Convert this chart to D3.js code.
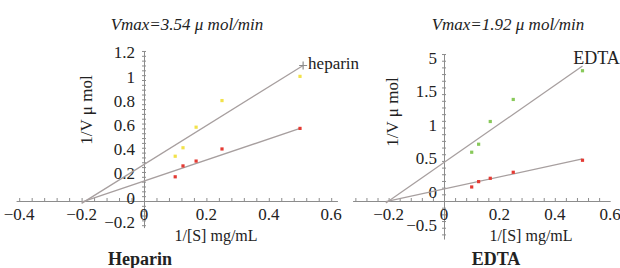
<!DOCTYPE html>
<html>
<head>
<meta charset="utf-8">
<script src="https://cdn.jsdelivr.net/npm/d3@7"></script>
<style>
  body { margin: 0; background: #fff; }
  text { fill: #222; }
</style>
</head>
<body>
<script>
const WIDTH = 620;
const HEIGHT = 268;

// 1/[S] values, same for both panels
const invS = [0.1, 0.125, 0.167, 0.25, 0.5];

// heparin panel (1/V)
const heparinYellow = [0.37, 0.44, 0.61, 0.83, 1.03];
const heparinRed = [0.20, 0.29, 0.33, 0.43, 0.60];
// edta panel (1/V)
const edtaGreen = [0.73, 0.85, 1.19, 1.52, 1.95];
const edtaRed = [0.21, 0.29, 0.34, 0.43, 0.61];

// fitted lines, end points [1/S, 1/V]
const heparinLineTop = [[-0.2, -0.02], [0.51, 1.12]];
const heparinLineLow = [[-0.2, -0.01], [0.5, 0.60]];
const edtaLineTop = [[-0.21, -0.03], [0.5, 2.02]];
const edtaLineLow = [[-0.21, -0.01], [0.5, 0.63]];

// tick labels
const heparinXTicks = [-0.4, -0.2, 0, 0.2, 0.4, 0.6];
const heparinYTicks = [-0.2, 0, 0.2, 0.4, 0.6, 0.8, 1, 1.2];
const heparinYLabels = ['−0.2', '0', '0.2', '0.4', '0.6', '0.8', '1', '1.2'];
const edtaXTicks = [-0.2, 0, 0.2, 0.4, 0.6];
const edtaYTicks = [-0.5, 0, 0.5, 1, 1.5, 2];
const edtaYLabels = ['−0.5', '0', '0.5', '1', '1.5', '5'];

const fmt = v => v < 0 ? '−' + Math.abs(v) : String(v);

const svg = d3.select('body')
    .append('svg')
    .attr('width', WIDTH)
    .attr('height', HEIGHT)
    .attr('font-family', '"Liberation Serif", "Times New Roman", serif');

function panel(p) {
    const x = d3.scaleLinear().domain([0, 1]).range([p.x0, p.x0 + p.xPx]);
    const y = d3.scaleLinear().domain([0, 1]).range([p.y0, p.y0 - p.yPx]);
    const g = svg.append('g');

    // x axis: domain line + minor ticks pointing up
    const xa = x.copy().domain(p.xExtent).range(p.xExtent.map(x));
    g.append('g')
        .attr('transform', `translate(0, ${p.y0})`)
        .call(d3.axisTop(xa).tickValues(d3.range(p.xExtent[0] + 0.01, p.xExtent[1], 0.04).map(v => Math.round(v / 0.04) * 0.04))
            .tickSize(3).tickSizeOuter(0).tickFormat(''))
        .call(s => s.selectAll('path, line').attr('stroke', '#8c8c8c'));

    // y axis: minor ticks crossing the line
    const ya = y.copy().domain(p.yExtent).range(p.yExtent.map(y));
    const ym = d3.range(Math.ceil(p.yExtent[0] / p.yMinor), Math.floor(p.yExtent[1] / p.yMinor) + 1).map(i => i * p.yMinor);
    const yg = g.append('g')
        .attr('transform', `translate(${p.x0 + 2}, 0)`)
        .call(d3.axisLeft(ya).tickValues(ym).tickSize(4).tickSizeOuter(0).tickFormat(''));
    yg.select('path').attr('transform', 'translate(-2,0)');
    yg.selectAll('path, line').attr('stroke', '#8c8c8c');

    // tick labels
    g.selectAll('.xl').data(p.xTicks).join('text')
        .attr('x', d => x(d))
        .attr('y', p.y0 + 19)
        .attr('text-anchor', 'middle')
        .attr('font-size', 17)
        .text(fmt);
    g.selectAll('.yl').data(p.yTicks).join('text')
        .attr('x', p.x0 - p.yLabelGap)
        .attr('y', d => y(d) + p.yLabelDy)
        .attr('text-anchor', 'end')
        .attr('dominant-baseline', 'central')
        .attr('font-size', 17)
        .text((d, i) => p.yLabels[i]);

    // fitted lines
    const line = d3.line().x(d => x(d[0])).y(d => y(d[1]));
    g.selectAll('.fit').data(p.lines).join('path')
        .attr('d', line)
        .attr('fill', 'none')
        .attr('stroke', '#a79f9f')
        .attr('stroke-width', 1.3);

    // points
    p.series.forEach(s => {
        g.selectAll(null).data(s.values).join('rect')
            .attr('x', (d, i) => x(invS[i]) - 1.6)
            .attr('y', d => y(d) - 1.6)
            .attr('width', 3.2)
            .attr('height', 3.2)
            .attr('fill', s.color);
    });

    // titles
    g.append('text')
        .attr('x', p.titleX).attr('y', 30)
        .attr('text-anchor', 'middle')
        .attr('font-size', 17)
        .attr('font-style', 'italic')
        .text(p.title);
    g.append('text')
        .attr('transform', `translate(${p.yTitleX}, ${p.yTitleY}) rotate(-90)`)
        .attr('text-anchor', 'middle')
        .attr('dominant-baseline', 'central')
        .attr('font-size', 17)
        .text('1/V  μ mol');
    g.append('text')
        .attr('x', p.xTitleX).attr('y', 241)
        .attr('text-anchor', 'middle')
        .attr('font-size', 16)
        .text('1/[S] mg/mL');
    g.append('text')
        .attr('x', p.nameX).attr('y', 265)
        .attr('text-anchor', 'middle')
        .attr('font-size', 18)
        .attr('font-weight', 'bold')
        .text(p.name);
    return { g, x, y };
}

const hep = panel({
    x0: 144, xPx: 312, y0: 201, yPx: 121,
    xExtent: [-0.41, 0.62], yExtent: [-0.22, 1.24], yMinor: 0.04,
    xTicks: heparinXTicks, yTicks: heparinYTicks, yLabels: heparinYLabels,
    yLabelGap: 9, yLabelDy: -3,
    lines: [heparinLineTop, heparinLineLow],
    series: [{ values: heparinYellow, color: '#f2e24a' }, { values: heparinRed, color: '#e43a33' }],
    title: 'Vmax=3.54 μ mol/min', titleX: 187,
    yTitleX: 86, yTitleY: 110, xTitleX: 216,
    name: 'Heparin', nameX: 140
});

// "+" marker and label at the end of the heparin line
const hx = hep.x(heparinLineTop[1][0]), hy = hep.y(heparinLineTop[1][1]);
hep.g.append('path')
    .attr('d', `M${hx - 4},${hy}H${hx + 4}M${hx},${hy - 4}V${hy + 4}`)
    .attr('stroke', '#8c8c8c').attr('stroke-width', 1.2);
hep.g.append('text')
    .attr('x', hx + 5).attr('y', hy + 4)
    .attr('font-size', 17)
    .text('heparin');

const edta = panel({
    x0: 444, xPx: 277, y0: 201, yPx: 66.8,
    xExtent: [-0.33, 0.6], yExtent: [-0.57, 2.2], yMinor: 0.1,
    xTicks: edtaXTicks, yTicks: edtaYTicks, yLabels: edtaYLabels,
    yLabelGap: 7, yLabelDy: -9,
    lines: [edtaLineTop, edtaLineLow],
    series: [{ values: edtaGreen, color: '#88c95a' }, { values: edtaRed, color: '#e43a33' }],
    title: 'Vmax=1.92 μ mol/min', titleX: 508,
    yTitleX: 392, yTitleY: 112, xTitleX: 531,
    name: 'EDTA', nameX: 496
});

edta.g.append('text')
    .attr('x', edta.x(edtaLineTop[1][0]) + 14).attr('y', edta.y(edtaLineTop[1][1]) - 2)
    .attr('text-anchor', 'middle')
    .attr('font-size', 18)
    .text('EDTA');
</script>
</body>
</html>
